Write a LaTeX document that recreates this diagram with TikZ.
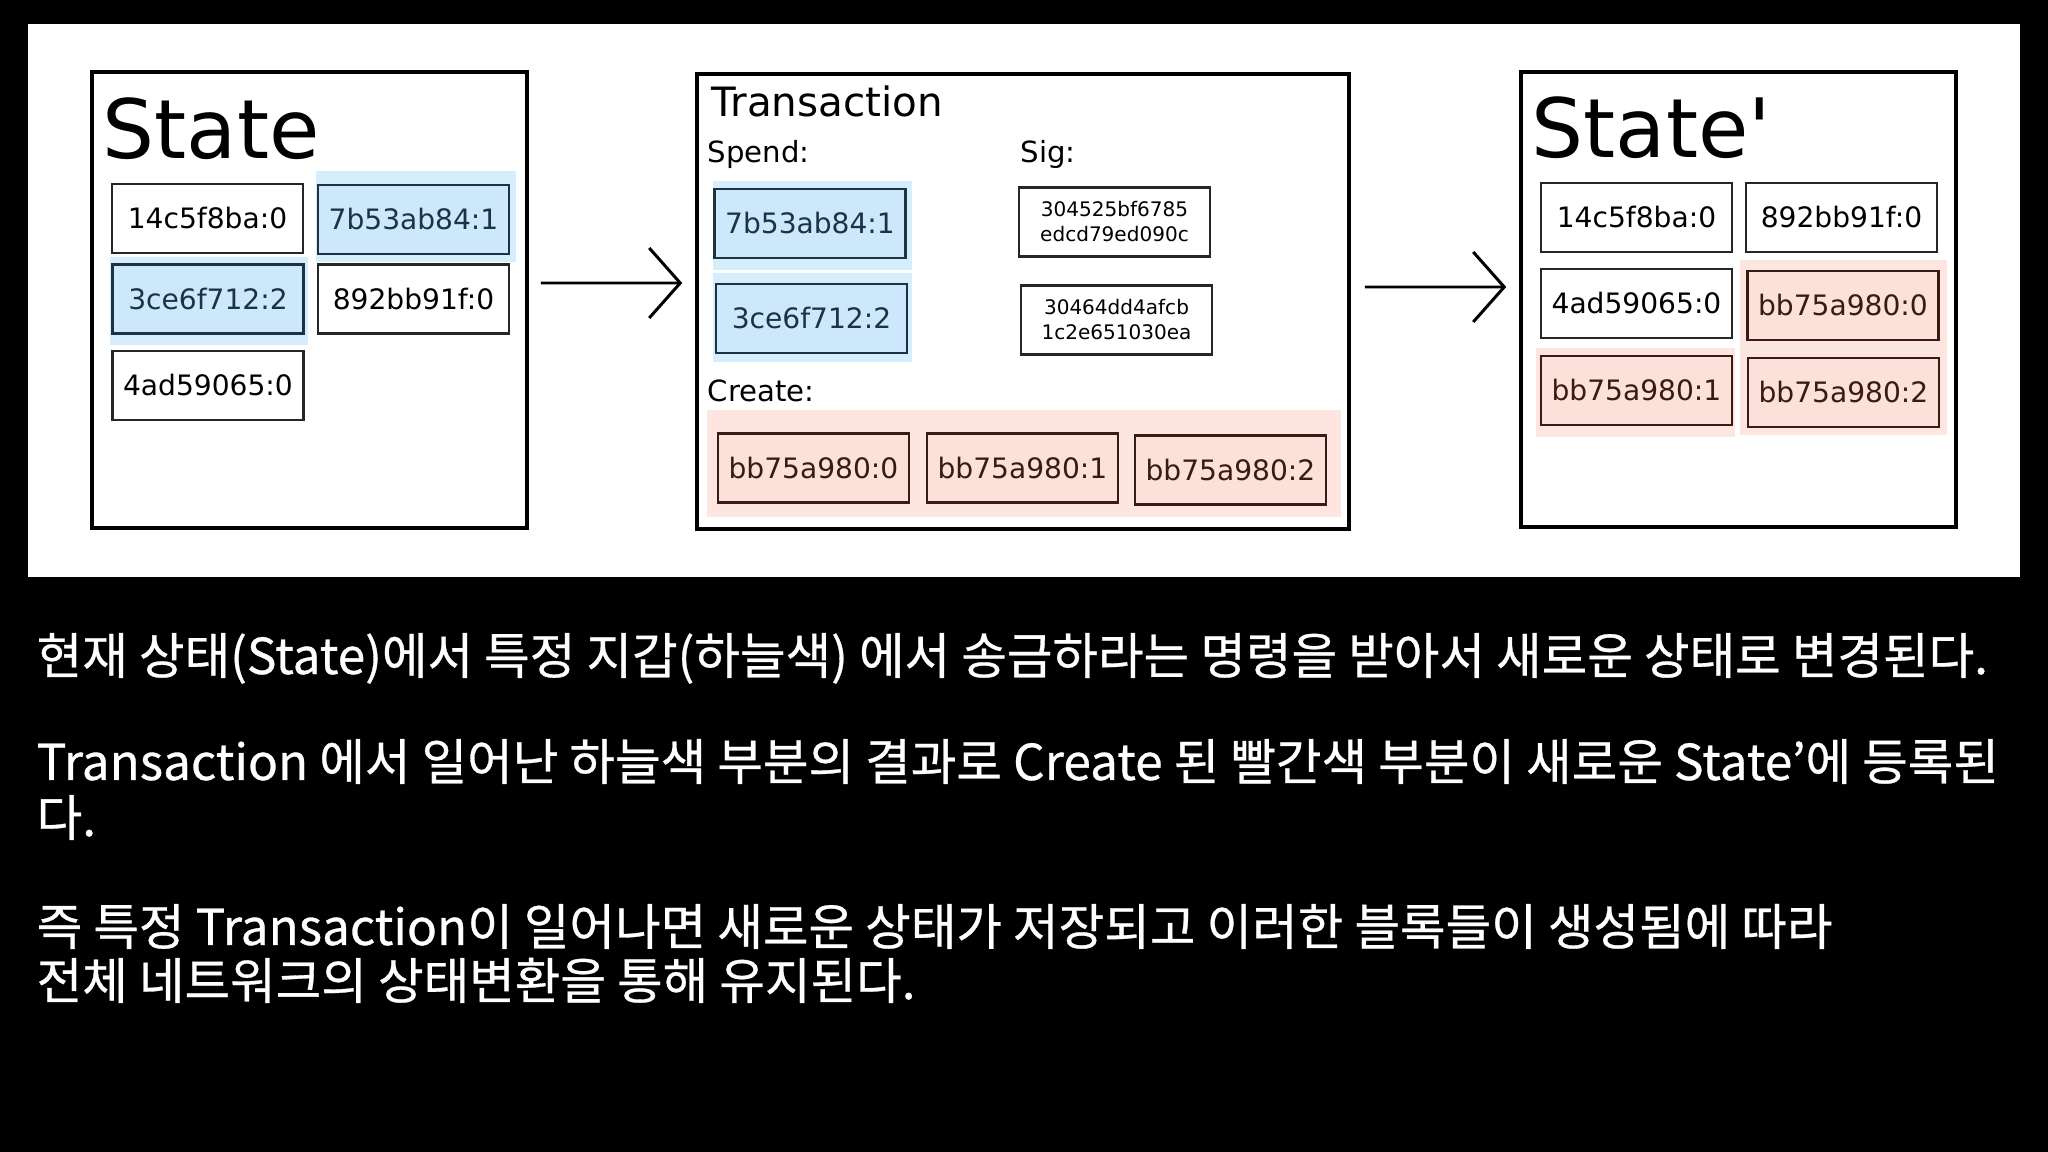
\documentclass[tikz,border=0pt]{standalone}
\usepackage{fontspec}
\setmainfont{DejaVu Sans}[Ligatures=TeXOff]
\newfontfamily\korfont{Noto Sans CJK KR}[FakeBold=0.6]
\usetikzlibrary{arrows.meta,positioning}
\definecolor{skyfill}{HTML}{CCE8FA}
\definecolor{skyhalo}{HTML}{D6EDFB}
\definecolor{skyedge}{HTML}{1B3445}
\definecolor{redfill}{HTML}{FCE0DA}
\definecolor{redhalo}{HTML}{FDE5E0}
\definecolor{rededge}{HTML}{3A1A14}

\tikzset{
  panel/.style={draw=black, line width=1pt, fill=white, minimum width=4.35cm, minimum height=4.56cm, inner sep=0pt},
  outbox/.style={draw=black!85, line width=0.8pt, fill=white, minimum width=1.91cm, minimum height=0.69cm, inner sep=0pt, font=\fontsize{8}{9.6}\selectfont},
  spendbox/.style={outbox, draw=skyedge, fill=skyfill, text=skyedge},
  newbox/.style={outbox, draw=rededge, fill=redfill, text=rededge},
  sigbox/.style={outbox, align=center, font=\fontsize{5.7}{7.1}\selectfont},
  title/.style={anchor=base west, inner sep=0pt},
  flow/.style={line width=0.85pt, -{Straight Barb[length=3.1mm, width=7mm]}},
  note/.style={anchor=base west, inner sep=0pt, text=white, font=\korfont\fontsize{14.1}{16.5}\selectfont},
}

\begin{document}
\begin{tikzpicture}
      % Background and white panel
      \fill[black] (0,0) rectangle (20.48,-11.52);
      \fill[white] (0.28,-0.24) rectangle (20.20,-5.77);
      % Three frames
      \node[panel] (state) at (3.095,-3.00) {};
      \node[panel, minimum width=6.52cm, minimum height=4.55cm] (tx) at (10.23,-3.015) {};
      \node[panel, minimum height=4.55cm] (statep) at (17.385,-2.995) {};
      % Highlights
      \fill[skyhalo] (3.16,-1.71) rectangle (5.16,-2.62);
      \fill[skyhalo] (1.10,-2.57) rectangle (3.08,-3.45);
      \fill[skyhalo] (7.13,-1.81) rectangle (9.12,-2.70);
      \fill[skyhalo] (7.13,-2.73) rectangle (9.12,-3.62);
      \fill[redhalo] (7.07,-4.10) rectangle (13.41,-5.17);
      \fill[redhalo] (17.40,-2.60) rectangle (19.47,-4.35);
      \fill[redhalo] (15.36,-3.48) rectangle (17.35,-4.37);
      % Left state
      \node[title, font=\fontsize{23.3}{28}\selectfont] (stateTitle) at (1.02,-1.59) {State};
      \node[outbox] (st14c5) at (2.075,-2.185) {14c5f8ba:0};
      \node[spendbox] (st7b53) at (4.135,-2.195) {7b53ab84:1};
      \node[spendbox] (st3ce6) at (2.08,-2.99) {3ce6f712:2};
      \node[outbox] (st892b) at (4.135,-2.99) {892bb91f:0};
      \node[outbox] (st4ad5) at (2.08,-3.855) {4ad59065:0};
      % Transaction
      \node[title, font=\fontsize{11.5}{13.5}\selectfont] (txTitle) at (7.11,-1.17) {Transaction};
      \node[title, font=\fontsize{8.3}{10}\selectfont] (spendLabel) at (7.07,-1.63) {Spend:};
      \node[title, font=\fontsize{8.3}{10}\selectfont] (sigLabel) at (10.20,-1.63) {Sig:};
      \node[spendbox] (tx7b53) at (8.10,-2.235) {7b53ab84:1};
      \node[spendbox] (tx3ce6) at (8.115,-3.185) {3ce6f712:2};
      \node[sigbox] (sigA) at (11.145,-2.22) {304525bf6785\\edcd79ed090c};
      \node[sigbox] (sigB) at (11.165,-3.20) {30464dd4afcb\\1c2e651030ea};
      \node[title, font=\fontsize{8.3}{10}\selectfont] (createLabel) at (7.07,-4.02) {Create:};
      \node[newbox] (txbb0) at (8.135,-4.68) {bb75a980:0};
      \node[newbox] (txbb1) at (10.225,-4.68) {bb75a980:1};
      \node[newbox] (txbb2) at (12.305,-4.70) {bb75a980:2};
      % Right state
      \node[title, font=\fontsize{23.3}{28}\selectfont] (statepTitle) at (15.31,-1.58) {State'};
      \node[outbox] (sp14c5) at (16.365,-2.175) {14c5f8ba:0};
      \node[outbox] (sp892b) at (18.415,-2.175) {892bb91f:0};
      \node[outbox] (sp4ad5) at (16.365,-3.035) {4ad59065:0};
      \node[newbox] (spbb0) at (18.43,-3.055) {bb75a980:0};
      \node[newbox] (spbb1) at (16.365,-3.905) {bb75a980:1};
      \node[newbox] (spbb2) at (18.435,-3.925) {bb75a980:2};
      % Arrows
      \draw[flow, shorten <=1.2mm, shorten >=1.3mm] ([yshift=1.7mm]state.east) -- ([yshift=1.85mm]tx.west);
      \draw[flow, shorten <=1.4mm, shorten >=1.3mm] ([yshift=1.45mm]tx.east) -- ([yshift=1.25mm]statep.west);
      % Notes
      \node[note] (note1) at (0.36,-6.74) {현재 상태(State)에서 특정 지갑(하늘색) 에서 송금하라는 명령을 받아서 새로운 상태로 변경된다.};
      \node[note] (note2) at (0.36,-7.80) {Transaction 에서 일어난 하늘색 부분의 결과로 Create 된 빨간색 부분이 새로운 State’에 등록된};
      \node[note] (note3) at (0.36,-8.36) {다.};
      \node[note] (note4) at (0.36,-9.45) {즉 특정 Transaction이 일어나면 새로운 상태가 저장되고 이러한 블록들이 생성됨에 따라};
      \node[note] (note5) at (0.36,-9.99) {전체 네트워크의 상태변환을 통해 유지된다.};
\end{tikzpicture}
\end{document}
